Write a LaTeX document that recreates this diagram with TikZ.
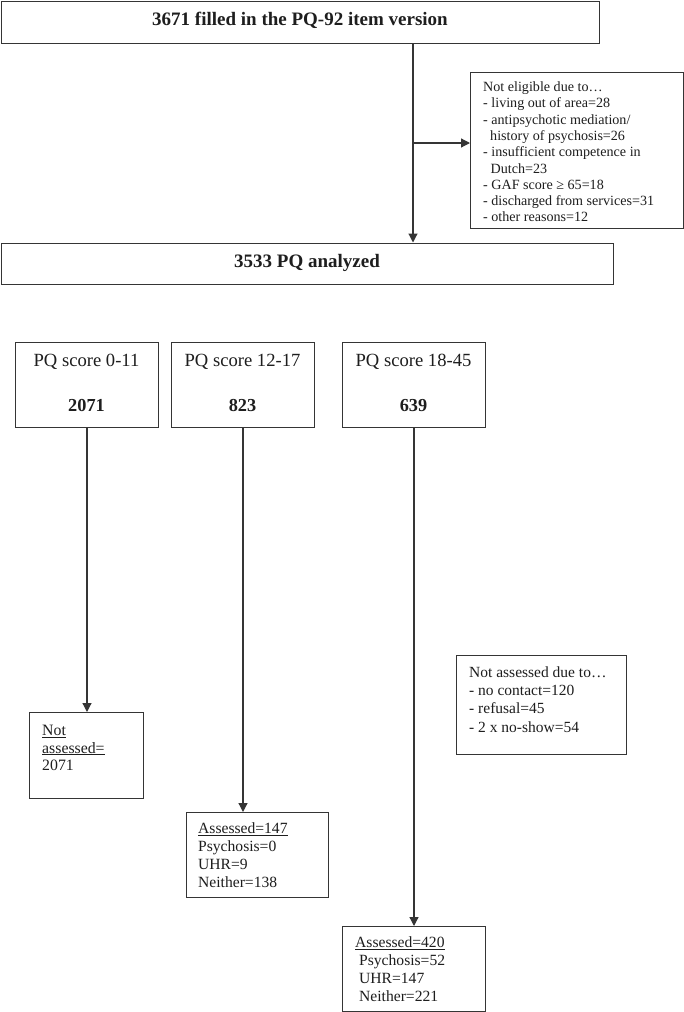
\documentclass[tikz,border=0pt]{standalone}
\usepackage{fontspec}
\setmainfont{Liberation Serif}
\usetikzlibrary{arrows.meta}
\definecolor{ln}{HTML}{353535}
\definecolor{tx}{HTML}{1E1E1E}
\begin{document}
\begin{tikzpicture}[x=1pt,y=-1pt,
  box/.style={draw=ln,line width=1pt,inner sep=0pt,anchor=north west},
  conn/.style={draw=ln,line width=1.2pt,-{Triangle[length=9pt,width=9pt]}},
  txt/.style={inner sep=0pt,text=tx,align=left,anchor=north west},
  ctxt/.style={inner sep=0pt,text=tx,anchor=base},
  bigb/.style={font=\fontsize{19}{22}\selectfont\bfseries},
  pqf/.style={font=\fontsize{18.6}{22}\selectfont},
  pqn/.style={font=\fontsize{18.3}{22}\selectfont\bfseries}
]
\useasboundingbox[fill=white] (0,0) rectangle (684,1012);

% texts
\node[ctxt,bigb] (ttop) at (300,25) {3671 filled in the PQ-92 item version};
\node[ctxt,bigb] (tbox2) at (307,267.3) {3533 PQ analyzed};

\node[txt,font=\fontsize{14.1}{16.3}\selectfont] (telig) at (483,81.6)
 {Not eligible due to…\\
  - living out of area=28\\
  - antipsychotic mediation/\\
  \hspace*{7pt}history of psychosis=26\\
  - insufficient competence in\\
  \hspace*{7.5pt}Dutch=23\\
  - GAF score ≥ 65=18\\
  - discharged from services=31\\
  - other reasons=12};

\node[ctxt,pqf] (tpqa) at (86.5,366) {PQ score 0-11};
\node[ctxt,pqn] (npqa) at (86.5,411) {2071};
\node[ctxt,pqf] (tpqb) at (242.5,366) {PQ score 12-17};
\node[ctxt,pqn] (npqb) at (242.5,411) {823};
\node[ctxt,pqf] (tpqc) at (413.5,366) {PQ score 18-45};
\node[ctxt,pqn] (npqc) at (413.5,411) {639};

\node[txt,font=\fontsize{15.5}{18.4}\selectfont] (tnad) at (469,666.1)
 {Not assessed due to…\\
  - no contact=120\\
  - refusal=45\\
  - 2 x no-show=54};

\node[txt,font=\fontsize{15.8}{17.3}\selectfont] (tnas) at (42,725.2)
 {\underline{Not}\\
  \underline{assessed=}\\
  2071};

\node[txt,font=\fontsize{15.6}{18}\selectfont] (ta147) at (198,822.35)
 {\underline{Assessed=147}\\
  Psychosis=0\\
  UHR=9\\
  Neither=138};

\node[txt,font=\fontsize{15.6}{18}\selectfont] (ta420) at (355,936.35)
 {\underline{Assessed=420}\\
  \hspace*{4pt}Psychosis=52\\
  \hspace*{4pt}UHR=147\\
  \hspace*{4pt}Neither=221};

% boxes
\node[box,minimum width=598pt,minimum height=42.4pt] (top) at (0.6,0.6) {};
\node[box,minimum width=213pt,minimum height=156pt] (elig) at (470,72) {};
\node[box,minimum width=612pt,minimum height=41.5pt] (box2) at (1,242.5) {};
\node[box,minimum width=143pt,minimum height=85pt] (pqa) at (15,342) {};
\node[box,minimum width=143pt,minimum height=85pt] (pqb) at (171,342) {};
\node[box,minimum width=143pt,minimum height=85pt] (pqc) at (342,342) {};
\node[box,minimum width=114pt,minimum height=86pt] (nas) at (29,712) {};
\node[box,minimum width=170pt,minimum height=99pt] (nad) at (456,655) {};
\node[box,minimum width=142pt,minimum height=85pt] (a147) at (186,812) {};
\node[box,minimum width=143pt,minimum height=85pt] (a420) at (342,926) {};

% connectors
\coordinate (v) at (413,143);
\draw[conn] (top.south -| v) -- (box2.north -| v);
\draw[conn] (v) -- (v -| elig.west);
\draw[conn] (pqa.south) -- (pqa.south |- nas.north);
\draw[conn] (pqb.south) -- (pqb.south |- a147.north);
\draw[conn] (pqc.south) -- (pqc.south |- a420.north);
\end{tikzpicture}
\end{document}
